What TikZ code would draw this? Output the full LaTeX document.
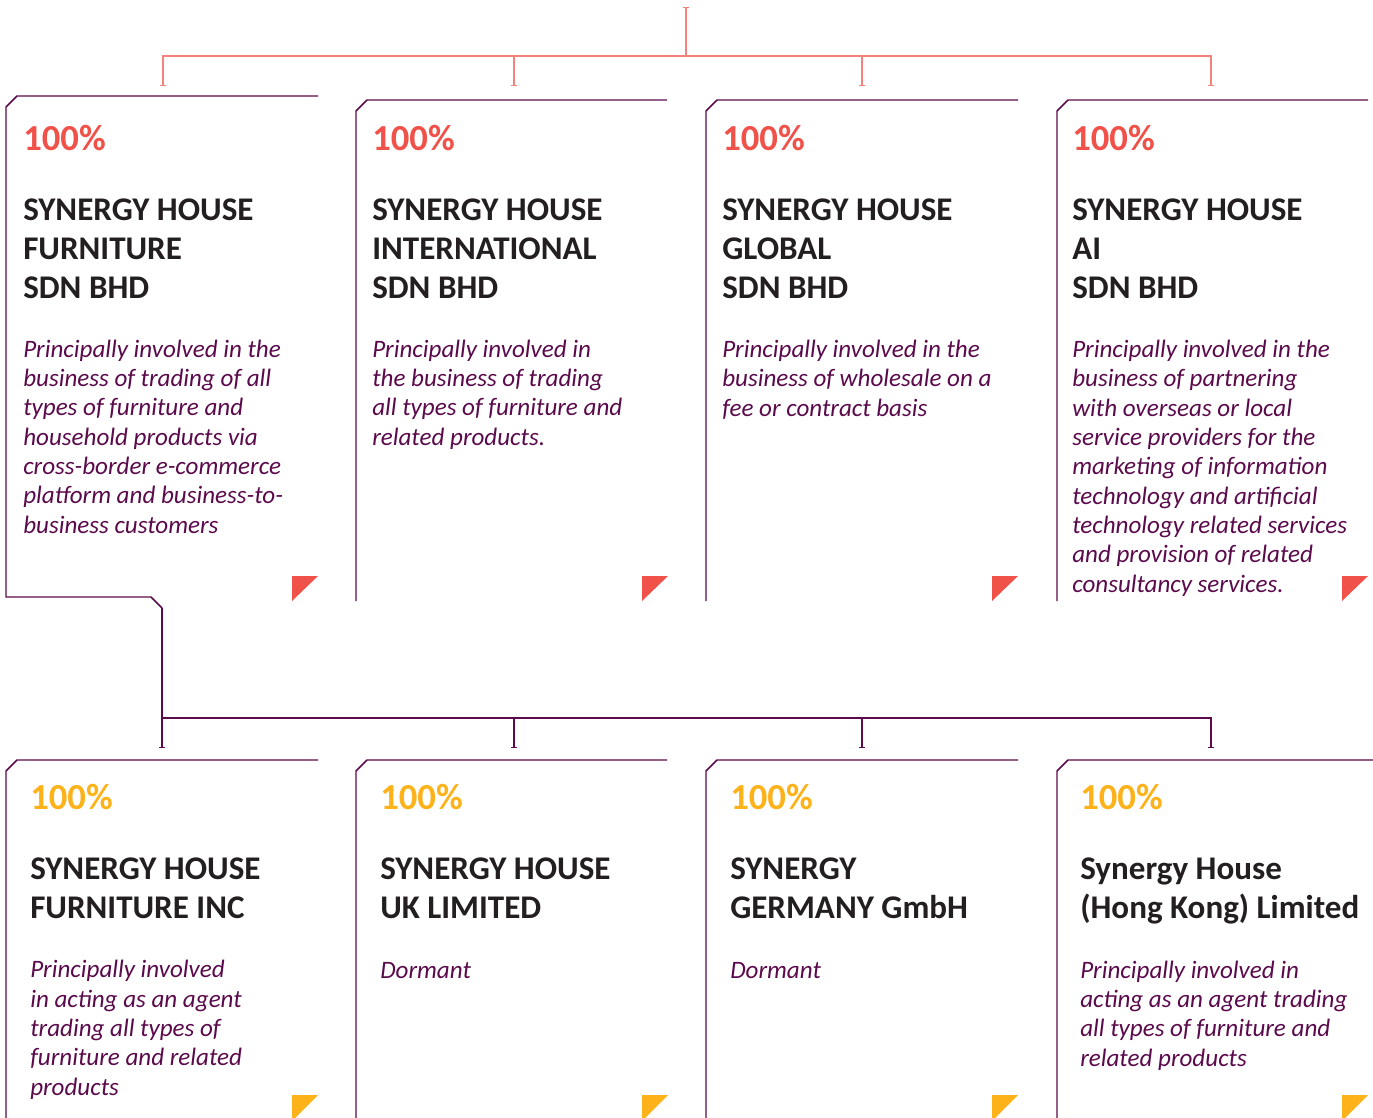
\documentclass[tikz,border=0pt]{standalone}
\usepackage{fontspec}
\setmainfont{Carlito}
\usetikzlibrary{arrows.meta}

\definecolor{shred}{HTML}{F05149}
\definecolor{shlink}{HTML}{F2827B}
\definecolor{shpurple}{HTML}{5B0B4C}
\definecolor{shorange}{HTML}{FDB21A}
\definecolor{shtext}{HTML}{231F20}

\begin{document}
\begin{tikzpicture}[x=0.75pt, y=-0.75pt]
\tikzset{%
	pct/.style = {anchor=base west, inner sep=0, font=\fontsize{27.5}{33}\selectfont\bfseries},
	title/.style = {anchor=base west, inner sep=0, align=left, text=shtext, font=\fontsize{24.8}{28.9}\selectfont\bfseries},
	info/.style = {anchor=base west, inner sep=0, align=left, text=shpurple, font=\fontsize{18.8}{22}\selectfont\itshape},
	frame/.style = {draw=shpurple, line width=1.1pt},
	redlink/.style = {draw=shlink, line width=1.3pt},
	plink/.style = {draw=shpurple, line width=1.1pt},
	tick/.style = {-{Bar[width=5pt,line width=1pt]}}
}
\clip (0,0) rectangle (1373,1117);

% Top level tree
\coordinate (root) at (686,7);
\coordinate (bus) at (686,56);
\coordinate (d1) at (163,86);
\coordinate (d2) at (514,86);
\coordinate (d3) at (862,86);
\coordinate (d4) at (1211,86);

\draw[redlink, {Bar[width=5pt,line width=1pt]}-] (root) -- (bus);
\draw[redlink, tick] (bus) -| (d1);
\draw[redlink, tick] (bus) -| (d2);
\draw[redlink, tick] (bus) -| (d3);
\draw[redlink, tick] (bus) -| (d4);

% Top row card frames
\coordinate (hook) at (162,608);
\draw[frame] (318,96) -- (17,96) -- (6,107) -- (6,597) -- (151,597) -- (hook);
\draw[frame] (667,100) -- (367,100) -- (356,111) -- (356,601);
\draw[frame] (1018,100) -- (717,100) -- (706,111) -- (706,601);
\draw[frame] (1368,100) -- (1068,100) -- (1057,111) -- (1057,601);

\fill[shred] (292,576) -- (318,576) -- (292,601) -- cycle;
\fill[shred] (642,576) -- (668,576) -- (642,601) -- cycle;
\fill[shred] (992,576) -- (1018,576) -- (992,601) -- cycle;
\fill[shred] (1342,576) -- (1368,576) -- (1342,601) -- cycle;

% Top row texts (multi-line nodes sit on their last baseline)
\draw node at (23,150) [pct, text=shred] (p1) {100\%};
\draw node at (372,150) [pct, text=shred] (p2) {100\%};
\draw node at (722,150) [pct, text=shred] (p3) {100\%};
\draw node at (1072,150) [pct, text=shred] (p4) {100\%};

\draw node at (23,298) [title] (n1) {SYNERGY HOUSE\\FURNITURE\\SDN BHD};
\draw node at (372,298) [title] (n2) {SYNERGY HOUSE\\INTERNATIONAL\\SDN BHD};
\draw node at (722,298) [title] (n3) {SYNERGY HOUSE\\GLOBAL\\SDN BHD};
\draw node at (1072,298) [title] (n4) {SYNERGY HOUSE\\AI\\SDN BHD};

\draw node at (23,533) [info] (i1)
{Principally involved in the\\business of trading of all\\types of furniture and\\household products via\\cross-border e-commerce\\platform and business-to-\\business customers};
\draw node at (372,445) [info] (i2)
{Principally involved in\\the business of trading\\all types of furniture and\\related products.};
\draw node at (722,416) [info] (i3)
{Principally involved in the\\business of wholesale on a\\fee or contract basis};
\draw node at (1072,592) [info] (i4)
{Principally involved in the\\business of partnering\\with overseas or local\\service providers for the\\marketing of information\\technology and artificial\\technology related services\\and provision of related\\consultancy services.};

% Subsidiaries tree
\coordinate (bus2) at (162,718);
\coordinate (s1) at (162,748);
\coordinate (s2) at (514,748);
\coordinate (s3) at (862,748);
\coordinate (s4) at (1211,748);

\draw[plink, tick] (hook) -- (s1);
\draw[plink, tick] (bus2) -| (s2);
\draw[plink, tick] (bus2) -| (s3);
\draw[plink, tick] (bus2) -| (s4);

% Bottom row card frames
\draw[frame] (318,760) -- (17,760) -- (6,771) -- (6,1125);
\draw[frame] (667,760) -- (367,760) -- (356,771) -- (356,1125);
\draw[frame] (1018,760) -- (717,760) -- (706,771) -- (706,1125);
\draw[frame] (1373,760) -- (1068,760) -- (1057,771) -- (1057,1125);

\fill[shorange] (292,1095) -- (318,1095) -- (292,1121) -- cycle;
\fill[shorange] (642,1095) -- (668,1095) -- (642,1121) -- cycle;
\fill[shorange] (992,1095) -- (1018,1095) -- (992,1121) -- cycle;
\fill[shorange] (1342,1095) -- (1368,1095) -- (1342,1121) -- cycle;

% Bottom row texts
\draw node at (30,809) [pct, text=shorange] (q1) {100\%};
\draw node at (380,809) [pct, text=shorange] (q2) {100\%};
\draw node at (730,809) [pct, text=shorange] (q3) {100\%};
\draw node at (1080,809) [pct, text=shorange] (q4) {100\%};

\draw node at (30,918) [title] (m1) {SYNERGY HOUSE\\FURNITURE INC};
\draw node at (380,918) [title] (m2) {SYNERGY HOUSE\\UK LIMITED};
\draw node at (730,918) [title] (m3) {SYNERGY\\GERMANY GmbH};
\draw node at (1080,918) [title] (m4) {Synergy House\\(Hong Kong) Limited};

\draw node at (30,1095) [info] (j1)
{Principally involved\\in acting as an agent\\trading all types of\\furniture and related\\products};
\draw node at (380,978) [info] (j2) {Dormant};
\draw node at (730,978) [info] (j3) {Dormant};
\draw node at (1080,1066) [info] (j4)
{Principally involved in\\acting as an agent trading\\all types of furniture and\\related products};

\end{tikzpicture}
\end{document}
